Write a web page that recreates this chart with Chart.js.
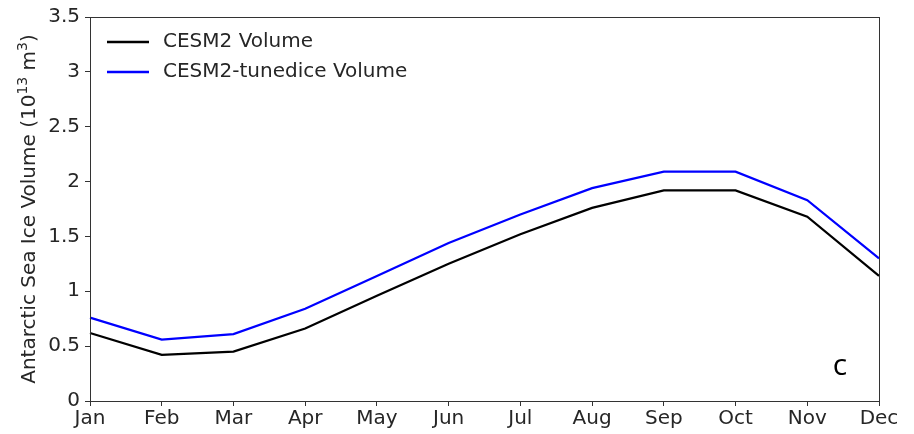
<!DOCTYPE html>
<html>
<head>
<meta charset="utf-8">
<script src="https://cdn.jsdelivr.net/npm/chart.js@4/dist/chart.umd.min.js"></script>
<style>
  html, body { margin: 0; padding: 0; background: #fff; }
  #wrap { width: 914px; height: 434px; position: relative; }
</style>
</head>
<body>
<div id="wrap"><canvas id="myChart"></canvas></div>
<script>
const months = ['Jan', 'Feb', 'Mar', 'Apr', 'May', 'Jun', 'Jul', 'Aug', 'Sep', 'Oct', 'Nov', 'Dec'];
const cesm2Volume = [0.62, 0.42, 0.45, 0.66, 0.96, 1.25, 1.52, 1.76, 1.92, 1.92, 1.68, 1.14];
const tunedVolume = [0.76, 0.56, 0.61, 0.84, 1.14, 1.44, 1.70, 1.94, 2.09, 2.09, 1.83, 1.30];
const yTicks = [0, 0.5, 1, 1.5, 2, 2.5, 3, 3.5];

const FONT = 'DejaVu Sans';
const INK = '#262626';
const SIZE = 20;

// y title with raised exponents: [text, superscript?]
const yTitleParts = [
    ['Antarctic Sea Ice Volume (10', false],
    ['13', true],
    [' m', false],
    ['3', true],
    [')', false]
];

// frame, y title, legend inside the axes, and the panel letter
const frameAndLegend = {
    id: 'frameAndLegend',
    afterDatasetsDraw(chart) {
        const { ctx, chartArea: a } = chart;
        ctx.save();
        ctx.strokeStyle = '#333';
        ctx.lineWidth = 1;
        ctx.strokeRect(a.left + 0.5, a.top + 0.5, a.right - a.left, a.bottom - a.top);

        // rotated y-axis title
        const big = SIZE + 'px "' + FONT + '"';
        const small = Math.round(SIZE * 0.7) + 'px "' + FONT + '"';
        let total = 0;
        yTitleParts.forEach(([t, sup]) => {
            ctx.font = sup ? small : big;
            total += ctx.measureText(t).width;
        });
        ctx.save();
        ctx.translate(35, (a.top + a.bottom) / 2);
        ctx.rotate(-Math.PI / 2);
        ctx.fillStyle = INK;
        ctx.textBaseline = 'alphabetic';
        ctx.textAlign = 'left';
        let x = -total / 2;
        yTitleParts.forEach(([t, sup]) => {
            ctx.font = sup ? small : big;
            ctx.fillText(t, x, sup ? -8 : 0);
            x += ctx.measureText(t).width;
        });
        ctx.restore();

        // legend
        ctx.font = big;
        ctx.textBaseline = 'middle';
        ctx.textAlign = 'left';
        chart.data.datasets.forEach((ds, i) => {
            const y = 42 + i * 30;
            ctx.strokeStyle = ds.borderColor;
            ctx.lineWidth = 2.5;
            ctx.beginPath();
            ctx.moveTo(107, y);
            ctx.lineTo(149, y);
            ctx.stroke();
            ctx.fillStyle = INK;
            ctx.fillText(ds.label, 163, y);
        });

        ctx.fillStyle = '#000';
        ctx.font = '30px "Open Sans"';
        ctx.textAlign = 'center';
        ctx.fillText('c', 840, 366);
        ctx.restore();
    }
};

new Chart(document.getElementById('myChart'), {
    type: 'line',
    data: {
        labels: months,
        datasets: [{
            label: 'CESM2 Volume',
            data: cesm2Volume,
            borderColor: '#000000',
            borderWidth: 2.2,
            pointRadius: 0,
            tension: 0
        }, {
            label: 'CESM2-tunedice Volume',
            data: tunedVolume,
            borderColor: '#0000ff',
            borderWidth: 2.2,
            pointRadius: 0,
            tension: 0
        }]
    },
    options: {
        responsive: true,
        maintainAspectRatio: false,
        animation: false,
        layout: { padding: { top: 15, right: 35, left: 0, bottom: 0 } },
        plugins: {
            legend: { display: false },
            tooltip: { enabled: false }
        },
        scales: {
            x: {
                type: 'category',
                offset: false,
                grid: { drawOnChartArea: false, tickLength: 5, color: '#333' },
                border: { color: '#333' },
                ticks: {
                    color: INK,
                    font: { family: FONT, size: SIZE },
                    padding: 1,
                    maxRotation: 0,
                    autoSkip: false
                },
                afterFit(scale) { scale.height = 33; }
            },
            y: {
                min: 0,
                max: 3.5,
                afterBuildTicks(scale) { scale.ticks = yTicks.map(v => ({ value: v })); },
                grid: { drawOnChartArea: false, tickLength: 5, color: '#333' },
                border: { color: '#333' },
                ticks: {
                    color: INK,
                    font: { family: FONT, size: SIZE },
                    padding: 5,
                    callback: v => String(v)
                },
                afterFit(scale) { scale.width = 90; }
            }
        }
    },
    plugins: [frameAndLegend]
});
</script>
</body>
</html>
